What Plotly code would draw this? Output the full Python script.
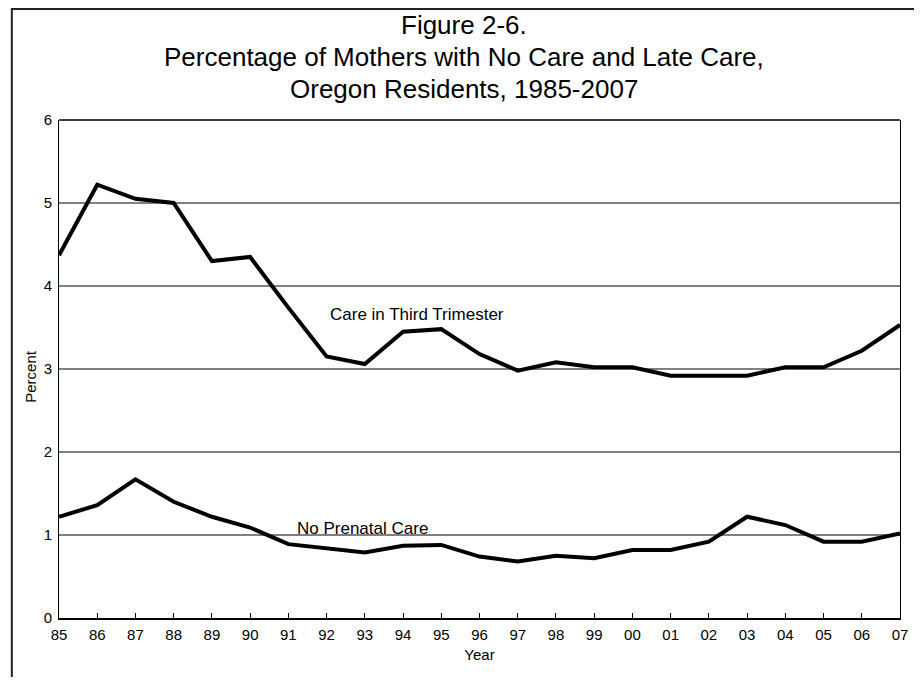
import plotly.graph_objects as go

years = list(range(1985, 2008))
year_labels = ["85", "86", "87", "88", "89", "90", "91", "92", "93", "94", "95", "96",
               "97", "98", "99", "00", "01", "02", "03", "04", "05", "06", "07"]
third_trimester = [4.37, 5.22, 5.05, 5.00, 4.30, 4.35, 3.74, 3.15, 3.06, 3.45, 3.48, 3.18,
                   2.98, 3.08, 3.02, 3.02, 2.92, 2.92, 2.92, 3.02, 3.02, 3.22, 3.53]
no_prenatal = [1.22, 1.36, 1.67, 1.40, 1.22, 1.09, 0.89, 0.84, 0.79, 0.87, 0.88, 0.74,
               0.68, 0.75, 0.72, 0.82, 0.82, 0.92, 1.22, 1.12, 0.92, 0.92, 1.02]
title_lines = ["Figure 2-6.",
               "Percentage of Mothers with No Care and Late Care,",
               "Oregon Residents, 1985-2007"]

FONT = "Liberation Sans, Arial, sans-serif"

fig = go.Figure()
fig.add_trace(go.Scatter(x=years, y=third_trimester, mode="lines",
                         line=dict(color="black", width=4), showlegend=False,
                         name="Care in Third Trimester"))
fig.add_trace(go.Scatter(x=years, y=no_prenatal, mode="lines",
                         line=dict(color="black", width=4), showlegend=False,
                         name="No Prenatal Care"))

# page offset of the figure (browser body margin)
OFF = 8
W, H = 912, 669
L, R, T, B = 51.3, 17.4, 112, 59
pw, ph = W - L - R, H - T - B

def px_x(p):  # page x -> paper
    return (p - OFF - L) / pw

def px_y(p):  # page y -> paper
    return (H - B - (p - OFF)) / ph

annotations = []
for txt, yc in zip(title_lines, [25, 57, 89]):
    annotations.append(dict(text=txt, x=px_x(465.5), y=px_y(yc), xref="paper", yref="paper",
                            xanchor="center", yanchor="middle", showarrow=False,
                            font=dict(family=FONT, size=26, color="black")))
annotations.append(dict(text="Care in Third Trimester", x=px_x(418), y=px_y(314),
                        xref="paper", yref="paper", xanchor="center", yanchor="middle",
                        showarrow=False, font=dict(family=FONT, size=17, color="black")))
annotations.append(dict(text="No Prenatal Care", x=px_x(364), y=px_y(528),
                        xref="paper", yref="paper", xanchor="center", yanchor="middle",
                        showarrow=False, font=dict(family=FONT, size=17, color="black")))
annotations.append(dict(text="Percent", x=px_x(30), y=px_y(376), textangle=-90,
                        xref="paper", yref="paper", xanchor="center", yanchor="middle",
                        showarrow=False, font=dict(family=FONT, size=15, color="black")))

shapes = [
    dict(type="rect", xref="paper", yref="paper", x0=px_x(12), x1=px_x(918.5),
         y0=px_y(720), y1=px_y(OFF + 1), line=dict(color="#222222", width=2), layer="below"),
    dict(type="line", xref="paper", yref="paper", x0=0, x1=1, y0=1, y1=1,
         line=dict(color="black", width=1.3)),
]

fig.update_layout(
    width=W, height=H,
    margin=dict(l=L, r=R, t=T, b=B, pad=0),
    paper_bgcolor="white", plot_bgcolor="white",
    font=dict(family=FONT, size=15, color="black"),
    annotations=annotations, shapes=shapes,
    xaxis=dict(range=[1985, 2007], tickmode="array", tickvals=years, ticktext=year_labels,
               ticks="inside", ticklen=5, tickwidth=1, tickcolor="black",
               showline=True, linecolor="black", linewidth=2, mirror=False,
               showgrid=False, zeroline=False, ticklabelstandoff=2,
               title=dict(text="Year", standoff=7, font=dict(size=15)),
               tickfont=dict(size=15)),
    yaxis=dict(range=[0, 6], tickmode="array", tickvals=[0, 1, 2, 3, 4, 5, 6],
               ticks="", showline=True, linecolor="black", linewidth=1, mirror=True,
               showgrid=True, gridcolor="#808080", gridwidth=1.5, zeroline=False,
               ticklabelstandoff=3, tickfont=dict(size=15)),
)

fig.write_html("out.html")
